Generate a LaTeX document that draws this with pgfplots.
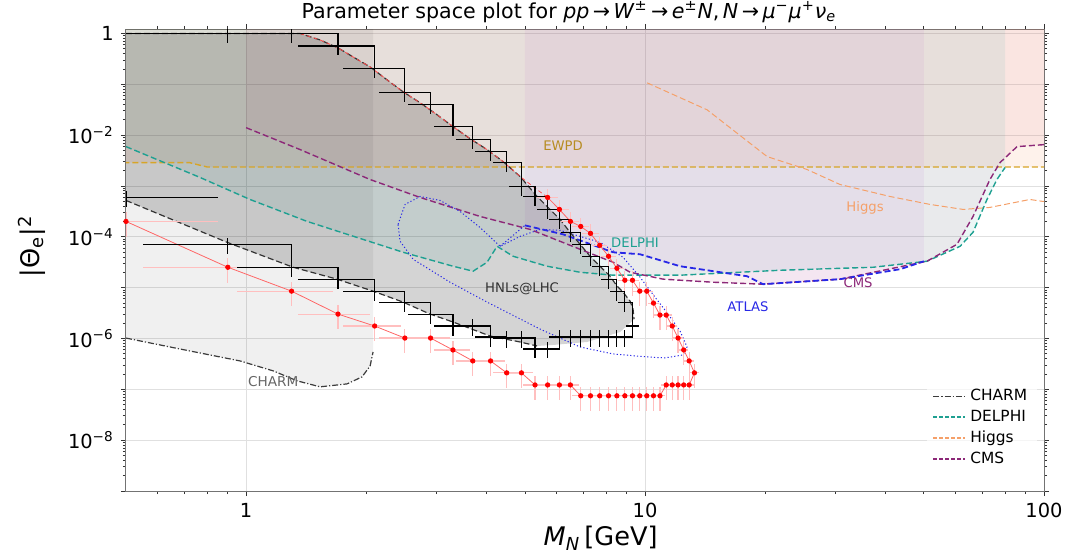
\documentclass[border=0pt]{standalone}
\usepackage{fontspec}
\setmainfont{DejaVu Sans}
\usepackage{pgfplots}
\pgfplotsset{compat=1.18}
\definecolor{delphi}{RGB}{30,160,145}
\definecolor{cms}{RGB}{140,40,120}
\definecolor{atlas}{RGB}{40,40,230}
\definecolor{higgs}{RGB}{245,160,105}
\definecolor{ewpd}{RGB}{215,165,40}
\definecolor{charm}{RGB}{60,60,60}
\definecolor{delphifill}{RGB}{0,150,136}
\definecolor{cmsfill}{RGB}{200,80,120}
\definecolor{atlasfill}{RGB}{170,90,200}
\definecolor{ewpdfill}{RGB}{245,140,70}
\begin{document}
\begin{tikzpicture}
\begin{axis}[
  name=ax, scale only axis, width=459pt, height=231pt,
  xmode=log, ymode=log,
  xmin=0.5, xmax=100, ymin=1e-9, ymax=1.225,
  xtick={1,10,100}, xticklabels={1,10,100},
  minor xtick={0.6,0.7,0.8,0.9,2,3,4,5,6,7,8,9,20,30,40,50,60,70,80,90},
  ytick={1e-9,1e-8,1e-7,1e-6,1e-5,1e-4,1e-3,1e-2,1e-1,1},
  yticklabels={,10\textsuperscript{−8},,10\textsuperscript{−6},,10\textsuperscript{−4},,10\textsuperscript{−2},,1},
  tick align=outside, major tick length=2.6pt, minor tick length=1.6pt,
  tick style={black!80, line width=0.45pt},
  axis line style={black!55, line width=0.5pt},
  ticklabel style={font=\fontsize{9.7}{11}\selectfont},
  grid=major, major grid style={black!12, line width=0.4pt},
  xlabel={\textit{M}\textsubscript{\textit{N}}\,[GeV]},
  xlabel style={font=\fontsize{12.8}{14}\selectfont, at={(rel axis cs:0.517,-0.102)}, anchor=center},
  ylabel={|Θ\textsubscript{e}|\textsuperscript{2}},
  ylabel style={font=\fontsize{12.8}{14}\selectfont, at={(rel axis cs:-0.1024,0.53)}, anchor=center, rotate=0},
  legend style={at={(0.993,0.035)}, anchor=south east, draw=none, fill=white, fill opacity=0.7, draw opacity=1, text opacity=1, font=\fontsize{7.7}{9}\selectfont, row sep=-0.8pt},
  legend cell align=left,
  legend image code/.code={\draw[#1, opacity=1] (0pt,0pt) -- (16pt,0pt);},
]
% ---------------- fills ----------------
% EWPD
\addplot[draw=none, fill=ewpdfill, fill opacity=0.11, forget plot] coordinates {(0.4,2.89e-3) (0.72,2.89e-3) (0.8,2.36e-3) (120,2.36e-3) (120,2) (0.4,2)} -- cycle;
% DELPHI
\addplot[draw=none, fill=delphifill, fill opacity=0.08, forget plot] coordinates {(0.4,1.24e-2) (0.5,5.95e-3) (0.767,1.47e-3) (1.023,5.43e-4) (1.422,2.01e-4) (2.475,4.97e-5) (3.302,2.64e-5) (3.707,2.11e-5) (4.018,3.16e-5) (4.257,6.51e-5) (4.669,4.15e-5) (5.681,2.64e-5) (6.873,2.01e-5) (8.315,1.76e-5) (12.24,1.76e-5) (21.8,2.2e-5) (37.28,2.52e-5) (50.9,3.31e-5) (61.6,6.51e-5) (66.4,1.23e-4) (71.97,5.43e-4) (76.2,1.34e-3) (79.9,2.31e-3) (79.9,2) (0.4,2)} -- cycle;
% CMS
\addplot[draw=none, fill=cmsfill, fill opacity=0.08, forget plot] coordinates {(1,0.01403) (1.366,5.2e-3) (2.046,1.34e-3) (2.73,5.95e-4) (3.858,2.52e-4) (5.15,1.4e-4) (6.873,5.69e-5) (8.315,3.16e-5) (9.172,2.01e-5) (11.1,1.47e-5) (14.8,1.28e-5) (19.76,1.17e-5) (30.82,1.47e-5) (50.9,3.31e-5) (60.53,7.13e-5) (66.4,2.52e-4) (73.2,1.34e-3) (77.6,2.89e-3) (85.6,5.95e-3) (100,6.51e-3) (120,6.51e-3) (120,2) (1,2)} -- cycle;
% ATLAS
\addplot[draw=none, fill=atlasfill, fill opacity=0.08, forget plot] coordinates {(5.0,1.68e-4) (6.23,1.12e-4) (8.315,4.97e-5) (9.716,4.54e-5) (12.24,2.64e-5) (18.01,1.68e-5) (19.76,1.17e-5) (30.82,1.47e-5) (43.6,2.31e-5) (50,3.31e-5) (50,2) (5.0,2)} -- cycle;
% CHARM
\addplot[draw=none, fill=black, fill opacity=0.06, forget plot] coordinates {(0.4,1.3e-6) (0.5,1.02e-6) (0.683,6.22e-7) (0.966,3.62e-7) (1.169,2.31e-7) (1.342,1.47e-7) (1.533,1.12e-7) (1.791,1.28e-7) (1.953,1.76e-7) (2.046,2.89e-7) (2.081,5.43e-7) (2.081,2) (0.4,2)} -- cycle;
% HNLs@LHC
\addplot[draw=none, fill=black, fill opacity=0.17, forget plot] coordinates {(0.4,1.0) (1.366,1.0) (1.533,0.746) (1.701,0.519) (1.854,0.346) (2.046,0.220) (2.256,0.1225) (2.475,0.0713) (2.73,0.0434) (3.011,0.0252) (3.302,0.01468) (3.642,8.54e-3) (4.018,5.2e-3) (4.408,3.02e-3) (4.861,1.54e-3) (5.363,6.22e-4) (5.681,3.96e-4) (6.124,2.2e-4) (6.486,1.23e-4) (6.873,7.13e-5) (7.282,4.15e-5) (7.714,2.64e-5) (8.173,1.68e-5) (8.509,1.07e-5) (8.809,8.16e-6) (9.172,5.43e-6) (9.331,3.79e-6) (9.385,2.41e-6) (9.278,2.2e-6) (8.657,1.34e-6) (7.154,8.54e-7) (5.88,7.46e-7) (5.363,7.13e-7) (4.861,8.54e-7) (4.088,1.12e-6) (3.302,2.11e-6) (2.892,3.02e-6) (2.475,5.2e-6) (2.081,8.54e-6) (1.69,1.47e-5) (1.312,2.52e-5) (0.896,7.8e-5) (0.5,5.2e-4) (0.4,8.5e-4)} -- cycle;
% ---------------- lines ----------------
\addplot[ewpd, line width=0.7pt, dash pattern=on 3pt off 1.5pt, forget plot] coordinates {(0.4,2.89e-3) (0.72,2.89e-3) (0.8,2.36e-3) (120,2.36e-3)};
\addplot[higgs, line width=0.5pt, dash pattern=on 3pt off 1.5pt, forget plot] coordinates {(10.12,0.107) (14.3,0.0316) (20.23,3.79e-3) (25.47,2.11e-3) (30.82,1.07e-3) (41.11,6.22e-4) (51.8,4.34e-4) (62.7,3.46e-4) (73.2,3.79e-4) (92.2,5.43e-4) (99.4,4.97e-4) (100,4.97e-4)};
\addplot[delphi, line width=0.7pt, dash pattern=on 3pt off 1.5pt, forget plot] coordinates {(0.5,5.95e-3) (0.767,1.47e-3) (1.023,5.43e-4) (1.422,2.01e-4) (2.475,4.97e-5) (3.302,2.64e-5) (3.707,2.11e-5) (4.018,3.16e-5) (4.257,6.51e-5) (4.669,4.15e-5) (5.681,2.64e-5) (6.873,2.01e-5) (8.315,1.76e-5) (12.24,1.76e-5) (21.8,2.2e-5) (37.28,2.52e-5) (50.9,3.31e-5) (61.6,6.51e-5) (66.4,1.23e-4) (71.97,5.43e-4) (76.2,1.34e-3) (79.9,2.31e-3)};
\addplot[cms, line width=0.7pt, dash pattern=on 3pt off 1.5pt, forget plot] coordinates {(1,0.01403) (1.366,5.2e-3) (2.046,1.34e-3) (2.73,5.95e-4) (3.858,2.52e-4) (5.15,1.4e-4) (6.873,5.69e-5) (8.315,3.16e-5) (9.172,2.01e-5) (11.1,1.47e-5) (14.8,1.28e-5) (19.76,1.17e-5) (30.82,1.47e-5) (50.9,3.31e-5) (60.53,7.13e-5) (66.4,2.52e-4) (73.2,1.34e-3) (77.6,2.89e-3) (85.6,5.95e-3) (100,6.51e-3)};
\addplot[atlas, line width=0.9pt, dash pattern=on 3pt off 1.5pt, forget plot] coordinates {(5.0,1.68e-4) (6.23,1.12e-4) (8.315,4.97e-5) (9.716,4.54e-5) (12.24,2.64e-5) (18.01,1.68e-5) (19.76,1.17e-5) (30.82,1.47e-5) (43.6,2.31e-5) (50,3.31e-5)};
\addplot[atlas, line width=0.5pt, dash pattern=on 0.6pt off 1.1pt, forget plot] coordinates {(2.404,1.76e-4) (2.503,4.34e-4) (2.73,6.22e-4) (3.063,5.2e-4) (3.438,3.16e-4) (3.858,1.53e-4) (4.332,6.51e-5) (4.861,1.02e-4) (5.457,1.4e-4) (6.124,1.34e-4) (6.873,1.02e-4) (7.714,7.8e-5) (8.809,3.96e-5) (9.716,1.61e-5) (10.59,6.51e-6) (11.42,3.02e-6) (12.24,1.4e-6) (12.74,6.81e-7) (12.45,4.75e-7) (11.22,4.15e-7) (10.12,4.34e-7) (8.315,4.97e-7) (6.873,6.81e-7) (5.457,1.53e-6) (4.018,5.2e-6) (3.245,1.28e-5) (2.622,3.62e-5) (2.432,8.16e-5) (2.404,1.76e-4)};
\addplot[atlas, line width=0.5pt, dash pattern=on 0.6pt off 1.1pt, forget plot] coordinates {(4.332,6.51e-5) (5.0,1.68e-4)};
\addplot[charm, line width=0.6pt, dash pattern=on 3pt off 1pt on 0.6pt off 1pt, forget plot] coordinates {(0.5,1.02e-6) (0.683,6.22e-7) (0.966,3.62e-7) (1.169,2.31e-7) (1.342,1.47e-7) (1.533,1.12e-7) (1.791,1.28e-7) (1.953,1.76e-7) (2.046,2.89e-7) (2.081,5.43e-7)};
% HNL boundaries
\addplot[black!80, line width=0.6pt, dash pattern=on 3pt off 1.5pt, forget plot] coordinates {(0.5,1.0) (1.366,1.0) (1.533,0.746) (1.701,0.519) (1.854,0.346) (2.046,0.220) (2.256,0.1225) (2.475,0.0713) (2.73,0.0434) (3.011,0.0252) (3.302,0.01468) (3.642,8.54e-3) (4.018,5.2e-3) (4.408,3.02e-3) (4.861,1.54e-3) (5.363,6.22e-4) (5.681,3.96e-4) (6.124,2.2e-4) (6.486,1.23e-4) (6.873,7.13e-5) (7.282,4.15e-5) (7.714,2.64e-5) (8.173,1.68e-5) (8.509,1.07e-5) (8.809,8.16e-6) (9.172,5.43e-6) (9.331,3.79e-6) (9.385,2.41e-6)};
\addplot[black!80, line width=0.6pt, dash pattern=on 3pt off 1.5pt, forget plot] coordinates {(0.5,5.2e-4) (0.896,7.8e-5) (1.312,2.52e-5) (1.69,1.47e-5) (2.081,8.54e-6) (2.475,5.2e-6) (2.892,3.02e-6) (3.302,2.11e-6) (4.088,1.12e-6) (4.861,8.54e-7) (5.363,7.13e-7)};
\addplot[red!70, line width=0.4pt, dash pattern=on 2pt off 1.5pt, forget plot] coordinates {(1.366,1.0) (1.533,0.746) (1.701,0.519) (1.854,0.346) (2.046,0.220) (2.256,0.1225) (2.475,0.0713) (2.73,0.0434) (3.011,0.0252) (3.302,0.01468) (3.642,8.54e-3) (4.018,5.2e-3) (4.408,3.02e-3) (4.861,1.54e-3) (5.363,8.5e-4) (5.7,5.95e-4)};
% ---------------- red sensitivity points ----------------
\addplot[red!60, line width=0.4pt, mark=*, mark size=1.1pt, mark options={fill=red, draw=red, solid}, forget plot,
  error bars/.cd, x dir=both, x fixed=0.35, y dir=both, y fixed relative=0.5,
  error bar style={red!25, line width=0.6pt}, error mark=none]
  coordinates {(0.5,2.01e-4) (0.9,2.52e-5) (1.3,8.54e-6) (1.7,3.02e-6) (2.1,1.76e-6) (2.5,1.02e-6) (2.9,1.02e-6) (3.3,5.95e-7) (3.7,3.62e-7) (4.1,3.62e-7) (4.5,2.11e-7) (4.9,2.11e-7) (5.3,1.22e-7) (5.7,1.22e-7) (6.1,1.22e-7) (6.5,1.22e-7) (6.9,7.46e-8) (7.3,7.46e-8) (7.7,7.46e-8) (8.1,7.46e-8) (8.5,7.46e-8) (8.9,7.46e-8) (9.3,7.46e-8) (9.7,7.46e-8) (10.1,7.46e-8) (10.5,7.46e-8) (10.9,7.46e-8) (11.3,1.22e-7) (11.7,1.22e-7) (12.1,1.22e-7) (12.5,1.22e-7) (12.9,1.22e-7) (13.3,2.11e-7) (12.9,3.62e-7) (12.5,5.95e-7) (12.1,1.02e-6) (11.7,1.76e-6) (11.3,2.89e-6) (10.9,2.89e-6) (10.5,4.97e-6) (10.1,8.54e-6) (9.7,8.54e-6) (9.3,1.4e-5) (8.9,1.4e-5) (8.5,2.41e-5) (8.1,4.15e-5) (7.7,6.81e-5) (7.3,1.17e-4) (6.9,1.6e-4) (6.5,2.01e-4) (6.1,3.46e-4) (5.7,5.95e-4)};
% ---------------- black HNL stairs and crosses ----------------
\addplot[black, line width=0.6pt, const plot mark left, forget plot] coordinates {(0.5,1.0) (0.9,1.0) (1.3,1.0) (1.7,0.569) (2.1,0.2014) (2.5,0.0681) (2.9,0.0396) (3.3,0.01468) (3.7,8.16e-3) (4.1,4.75e-3) (4.5,2.89e-3) (4.9,9.77e-4) (5.3,6.22e-4) (5.7,3.46e-4) (6.1,2.2e-4) (6.5,1.23e-4) (6.9,7.13e-5) (7.3,4.15e-5) (7.7,2.64e-5) (8.1,1.47e-5) (8.5,8.54e-6) (8.9,5.2e-6) (9.3,1.76e-6)};
\addplot[black, line width=0.6pt, const plot mark left, forget plot] coordinates {(0.9,7.13e-5) (1.3,2.52e-5) (1.7,1.47e-5) (2.1,8.54e-6) (2.5,5.2e-6) (2.9,3.02e-6) (3.3,1.76e-6) (3.7,1.76e-6) (4.1,1.07e-6) (4.5,1.02e-6) (4.9,1.02e-6) (5.3,6.22e-7) (5.7,6.22e-7) (6.1,1.07e-6) (6.5,1.07e-6) (6.9,1.07e-6) (7.3,1.07e-6) (7.7,1.07e-6) (8.1,1.07e-6) (8.5,1.07e-6) (8.9,1.07e-6) (9.3,1.76e-6)};
\addplot[draw=none, mark=none, forget plot,
  error bars/.cd, x dir=both, x fixed=0.35, y dir=both, y fixed relative=0.35,
  error bar style={draw=black, line width=0.6pt}, error mark=none]
  coordinates {(0.9,1.0) (1.3,1.0) (1.7,0.569) (2.1,0.2014) (2.5,0.0681) (2.9,0.0396) (3.3,0.01468) (3.7,8.16e-3) (4.1,4.75e-3) (4.5,2.89e-3) (4.9,9.77e-4) (5.3,6.22e-4) (5.7,3.46e-4) (6.1,2.2e-4) (6.5,1.23e-4) (6.9,7.13e-5) (7.3,4.15e-5) (7.7,2.64e-5) (8.1,1.47e-5) (8.5,8.54e-6) (8.9,5.2e-6) (9.3,1.76e-6)
  (0.5,5.95e-4) (0.9,7.13e-5) (1.3,2.52e-5) (1.7,1.47e-5) (2.1,8.54e-6) (2.5,5.2e-6) (2.9,3.02e-6) (3.3,1.76e-6) (3.7,1.76e-6) (4.1,1.07e-6) (4.5,1.02e-6) (4.9,1.02e-6) (5.3,6.22e-7) (5.7,6.22e-7) (6.1,1.07e-6) (6.5,1.07e-6) (6.9,1.07e-6) (7.3,1.07e-6) (7.7,1.07e-6) (8.1,1.07e-6) (8.5,1.07e-6) (8.9,1.07e-6)};
% ---------------- labels ----------------
\node[text=ewpd!85!black, font=\fontsize{6.6}{8}\selectfont] at (axis cs:6.23,6.22e-3) {EWPD};
\node[text=delphi, font=\fontsize{6.6}{8}\selectfont] at (axis cs:9.44,7.8e-5) {DELPHI};
\node[text=black!80, font=\fontsize{6.6}{8}\selectfont] at (axis cs:4.918,9.35e-6) {HNLs@LHC};
\node[text=atlas, font=\fontsize{6.6}{8}\selectfont] at (axis cs:18.12,4.15e-6) {ATLAS};
\node[text=cms, font=\fontsize{6.6}{8}\selectfont] at (axis cs:34.2,1.28e-5) {CMS};
\node[text=higgs, font=\fontsize{6.6}{8}\selectfont] at (axis cs:35.6,3.79e-4) {Higgs};
\node[text=black!60, font=\fontsize{6.8}{8}\selectfont] at (axis cs:1.169,1.4e-7) {CHARM};
% ---------------- legend ----------------
\addlegendimage{charm, line width=0.7pt, dash pattern=on 3pt off 1pt on 0.6pt off 1pt}
\addlegendentry{CHARM}
\addlegendimage{delphi, line width=0.9pt, dash pattern=on 2pt off 1pt}
\addlegendentry{DELPHI}
\addlegendimage{higgs, line width=0.8pt, dash pattern=on 2pt off 1pt}
\addlegendentry{Higgs}
\addlegendimage{cms, line width=0.8pt, dash pattern=on 2pt off 1pt}
\addlegendentry{CMS}
\end{axis}
\node[font=\fontsize{10.3}{12}\selectfont, anchor=center] at ([xshift=221.5pt,yshift=8.5pt]ax.north west) {Parameter space plot for \textit{pp}\,→\,\textit{W}\textsuperscript{±}\,→\,\textit{e}\textsuperscript{±}\textit{N},\,\textit{N}\,→\,\textit{μ}\textsuperscript{−}\textit{μ}\textsuperscript{+}\textit{ν}\textsubscript{\textit{e}}};
\pgfresetboundingbox
\path[use as bounding box] ([xshift=-63pt,yshift=-33.5pt]ax.south west) rectangle ([xshift=14pt,yshift=14.5pt]ax.north east);
\end{tikzpicture}
\end{document}
